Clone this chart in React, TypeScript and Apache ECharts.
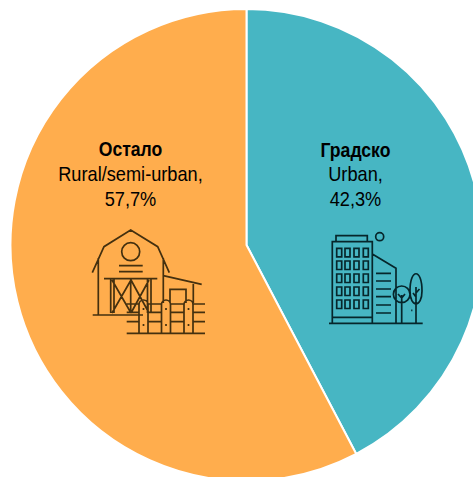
import React, { useEffect, useRef } from "react";
import * as echarts from "echarts";

const namesSr = ["Градско", "Остало"];
const namesEn = ["Urban", "Rural/semi-urban"];
const values = [42.3, 57.7];
const colors = ["#47B6C3", "#FFAD4D"];
const labelCenterX = [355.5, 130.5];
const labelRows = [
  [150, 174, 199.5],
  [149, 174, 199.5],
];

const barnPath = [
  "M92.3 272.7L104 246.7L130.7 230L157.7 246.7L169.3 272.7",
  "M98.3 258V315M163.3 258V303",
  "M92.7 315H143",
  "M121.7 251.7A9 9 0 1 0 139.7 251.7A9 9 0 1 0 121.7 251.7",
  "M119 265.7H142.7M119 271.7H142.7",
  "M104 278.7H157.3",
  "M110.7 279V313M114 279V313M147.5 279V313M151 279V313",
  "M130.7 279V313",
  "M112 280L131 313M131 280L112 313M131 280L149 313M149 280L131 313",
  "M163.3 275.7L201.7 284.3M193.3 284V303",
  "M170 303V289.3H186V303",
  "M126.7 304H139M148 304H161.5M171 304H183.5M193 304H205",
  "M126.7 312.3H139M148 312.3H161.5M171 312.3H183.5M193 312.3H205",
  "M126.7 321.7H139M148 321.7H161.5M171 321.7H183.5M193 321.7H205",
  "M126.7 333.3H205",
  "M139 333V304.5A4.5 4.5 0 0 1 148 304.5V333",
  "M161.5 333V304.5A4.5 4.5 0 0 1 170.5 304.5V333",
  "M184 333V304.5A4.5 4.5 0 0 1 193 304.5V333",
  "M143.5 308V310M143.5 324V326M166 308V310M166 324V326M188.5 308V310M188.5 324V326",
].join("");

const windowColumns = [336.7, 345, 354, 363.3];
const windowRows = [248.3, 261, 274, 287, 300];
const windowsPath = windowRows
  .map((y) => windowColumns.map((x) => `M${x} ${y}h5v8.5h-5Z`).join(""))
  .join("");

const buildingPath = [
  "M332.3 323.3V241.7H372.3V323.3",
  "M336 241.7V235.7H367.3V241.7",
  "M375.7 236.7A4 4 0 1 0 383.7 236.7A4 4 0 1 0 375.7 236.7",
  "M332.3 317.3H372.3",
  "M372.3 254L396 268.3V323.3",
  "M376 273.3H391M376 281H391M376 289H391M376 296.7H391M376 305H391M376 313H391",
  "M329 323.3H422.7",
  "M393.4 294.3A8.3 8.3 0 1 0 410 294.3A8.3 8.3 0 1 0 393.4 294.3",
  "M401.7 295V323M401.7 298L398 294M401.7 298L405 294",
  "M410 291C410 268 422 268 422 291C422 308 410 308 410 291Z",
  "M416 287V323.3M416 297L413 293M416 293L419.5 289",
  "M411.2 310.3H412.4",
  windowsPath,
].join("");

echarts.graphic.registerShape("barnIcon", echarts.graphic.extendPath(barnPath, {}));
echarts.graphic.registerShape("buildingIcon", echarts.graphic.extendPath(buildingPath, {}));

const textFont = "'Liberation Sans', Arial, sans-serif";

function labelText(text: string, x: number, y: number, bold: boolean) {
  return {
    type: "text",
    x,
    y,
    z: 20,
    silent: true,
    scaleX: bold ? 0.88 : 0.91,
    style: {
      text,
      fill: "#000000",
      fontFamily: textFont,
      fontSize: 20,
      fontWeight: bold ? "bold" : "normal",
      align: "center",
      verticalAlign: "middle",
    },
  };
}

export default function App() {
  const ref = useRef<HTMLDivElement>(null);
  useEffect(() => {
    const chart = echarts.init(ref.current!, null, { renderer: "svg" });
    const texts = values.flatMap((value, i) => [
      labelText(namesSr[i], labelCenterX[i], labelRows[i][0], true),
      labelText(`${namesEn[i]},`, labelCenterX[i], labelRows[i][1], false),
      labelText(`${String(value).replace(".", ",")}%`, labelCenterX[i], labelRows[i][2], false),
    ]);
    chart.setOption({
      animation: false,
      backgroundColor: "#ffffff",
      series: [
        {
          type: "pie",
          center: [246.5, 245],
          radius: [0, 236],
          startAngle: 90,
          clockwise: true,
          silent: true,
          itemStyle: { borderColor: "#ffffff", borderWidth: 2 },
          data: values.map((value, i) => ({
            value,
            name: namesSr[i],
            itemStyle: { color: colors[i] },
          })),
          labelLine: { show: false },
          label: { show: false },
        },
      ],
      graphic: [
        {
          type: "barnIcon",
          x: 0,
          y: 0,
          z: 20,
          silent: true,
          style: { fill: "none", stroke: "#44300f", lineWidth: 1.7 },
        },
        {
          type: "buildingIcon",
          x: 0,
          y: 0,
          z: 20,
          silent: true,
          style: { fill: "none", stroke: "#06262b", lineWidth: 1.7 },
        },
        ...texts,
      ],
    });
    return () => chart.dispose();
  }, []);
  return (
    <div
      ref={ref}
      style={{ position: "fixed", left: 0, top: 0, width: 473, height: 477 }}
    />
  );
}
